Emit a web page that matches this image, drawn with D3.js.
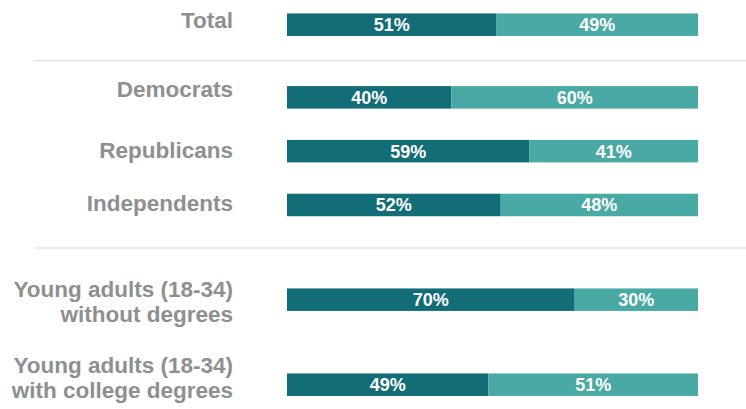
<!DOCTYPE html>
<html>
<head>
<meta charset="utf-8">
<script src="https://cdn.jsdelivr.net/npm/d3@7"></script>
<style>
  html, body { margin: 0; padding: 0; background: #fff; }
  svg { display: block; }
  text { font-family: "Liberation Sans", Arial, sans-serif; font-weight: bold; }
</style>
</head>
<body>
<div id="chart"></div>
<script>
// chart values
const categories = [
    ["Total"],
    ["Democrats"],
    ["Republicans"],
    ["Independents"],
    ["Young adults (18-34)", "without degrees"],
    ["Young adults (18-34)", "with college degrees"]
];
const firstShare = [51, 40, 59, 52, 70, 49];
const secondShare = [49, 60, 41, 48, 30, 51];
const seriesKeys = ["first", "second"];

// layout (row slots, group separators, label nudges)
const rowSlots = [0, 1.35, 2.35, 3.35, 5.11, 6.69];
const separatorSlots = [0.67, 4.15];
const labelNudge = [3.6, 0.1, 6.5, 6.2, -2.2, -11.4];

const width = 746;
const height = 409;
const barHeight = 22.5;
const colors = {first: "#136d77", second: "#48a9a5"};

function draw() {
    const svg = d3.select("#chart").append("svg")
        .attr("width", width)
        .attr("height", height);

    const rows = categories.map((c, i) => ({
        index: i,
        lines: c,
        first: firstShare[i],
        second: secondShare[i]
    }));

    const x = d3.scaleLinear().domain([0, 100]).range([287, 698]);
    const y = d3.scaleLinear().domain([0, 6.69]).range([24.7, 384.7]);

    // separators between groups
    svg.selectAll(".sep")
        .data(separatorSlots)
        .enter().append("line")
        .attr("class", "sep")
        .attr("x1", 34)
        .attr("x2", width)
        .attr("y1", d => y(d))
        .attr("y2", d => y(d))
        .style("stroke", "#e6e6e6")
        .style("stroke-width", "1.5px");

    const stacked = d3.stack().keys(seriesKeys)(rows);

    const layers = svg.selectAll(".layer")
        .data(stacked)
        .enter().append("g")
        .attr("class", "layer")
        .style("fill", d => colors[d.key]);

    layers.selectAll("rect")
        .data(d => d)
        .enter().append("rect")
        .attr("x", d => x(d[0]))
        .attr("y", d => y(rowSlots[d.data.index]) - barHeight / 2)
        .attr("width", d => x(d[1]) - x(d[0]))
        .attr("height", barHeight);

    layers.selectAll("text")
        .data(d => d.map(s => ({s: s, key: d.key})))
        .enter().append("text")
        .attr("x", d => (x(d.s[0]) + x(d.s[1])) / 2)
        .attr("y", d => y(rowSlots[d.s.data.index]))
        .attr("dy", "0.36em")
        .attr("text-anchor", "middle")
        .style("font-size", "18px")
        .style("fill", "#ffffff")
        .text(d => d.s.data[d.key] + "%");

    // category labels on the left
    const labels = svg.selectAll(".cat")
        .data(rows)
        .enter().append("text")
        .attr("class", "cat")
        .attr("text-anchor", "end")
        .style("font-size", "22.5px")
        .style("fill", "#8e8f91")
        .attr("y", d => y(rowSlots[d.index]) + labelNudge[d.index]);

    labels.selectAll("tspan")
        .data(d => d.lines.map((l, k) => ({l: l, k: k, yy: y(rowSlots[d.index]) + labelNudge[d.index]})))
        .enter().append("tspan")
        .attr("x", 233)
        .attr("y", d => d.yy + d.k * 24.7)
        .text(d => d.l);
}

draw();
</script>
</body>
</html>
